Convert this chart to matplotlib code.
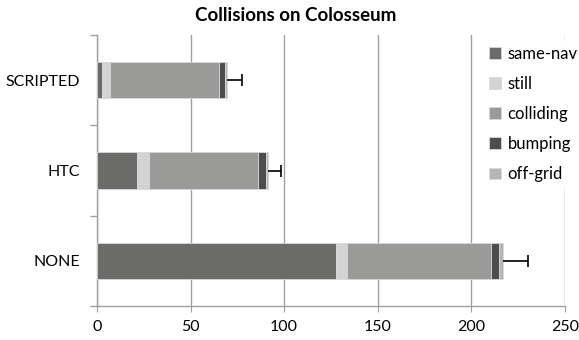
import numpy as np
import matplotlib
matplotlib.use("Agg")
from matplotlib import pyplot as plt

# data
methods = ["SCRIPTED", "HTC", "NONE"]
same_nav = [2.9, 21.6, 127.7]
still = [3.8, 6.1, 5.9]
colliding = [58.7, 58.2, 76.9]
bumping = [3.0, 4.4, 4.2]
off_grid = [1.3, 1.2, 2.3]
errors = [7.7, 6.8, 13.0]

series = [("same-nav", same_nav, "#6b6b69"),
          ("still", still, "#d3d3d3"),
          ("colliding", colliding, "#9a9b99"),
          ("bumping", bumping, "#4d4d4d"),
          ("off-grid", off_grid, "#b5b5b5")]

plt.rcParams['font.family'] = ['Lato', 'DejaVu Sans']

fig = plt.figure(figsize=(5.79, 3.40), dpi=100)
ax = fig.add_axes([0.1675, 0.1, 0.8083, 0.797])

y = np.arange(len(methods))
left = np.zeros(len(methods))
for name, vals, col in series:
    ax.barh(y, vals, left=left, height=0.4, color=col, label=name,
            edgecolor="#d9d9d9", linewidth=0.6, zorder=3)
    left = left + np.array(vals)

# one-sided error bars, cap only at the far end
ax.errorbar(left, y, xerr=[np.zeros(len(errors)), errors], fmt="none",
            ecolor="black", elinewidth=1.2, capsize=0, zorder=4)
ax.plot(left + np.array(errors), y, linestyle="none", marker="|",
        markersize=8, markeredgewidth=1.2, color="black", zorder=4)

ax.set_xlim(0, 250)
ax.set_ylim(2.5, -0.5)
ax.set_xticks([0, 50, 100, 150, 200, 250])
ax.set_yticks(y)
ax.set_yticklabels(methods)
ax.set_yticks([-0.5, 0.5, 1.5, 2.5], minor=True)
ax.tick_params(axis="y", which="major", length=0, pad=12, labelsize=11.5)
ax.tick_params(axis="y", which="minor", length=5, color="#a0a0a0", width=1)
ax.tick_params(axis="x", length=4, color="#a0a0a0", labelsize=11.5, pad=6)
ax.xaxis.grid(True, color="#a0a0a0", linewidth=1, zorder=0)
ax.set_axisbelow(True)
for s in ["top", "right"]:
    ax.spines[s].set_visible(False)
for s in ["left", "bottom"]:
    ax.spines[s].set_color("#a0a0a0")
    ax.spines[s].set_linewidth(1)

leg = ax.legend(loc="upper left", bbox_to_anchor=(0.81, 1.01), frameon=True,
                fancybox=False, edgecolor="none", facecolor="white", framealpha=1,
                fontsize=12, handlelength=0.7, handleheight=0.7,
                handletextpad=0.4, labelspacing=0.85, borderpad=0.3)
leg.set_zorder(5)

fig.text(0.51, 0.955, "Collisions on Colosseum", ha="center", va="center",
         fontsize=13.5, fontweight="bold")

fig.savefig("out.png", dpi=100)
